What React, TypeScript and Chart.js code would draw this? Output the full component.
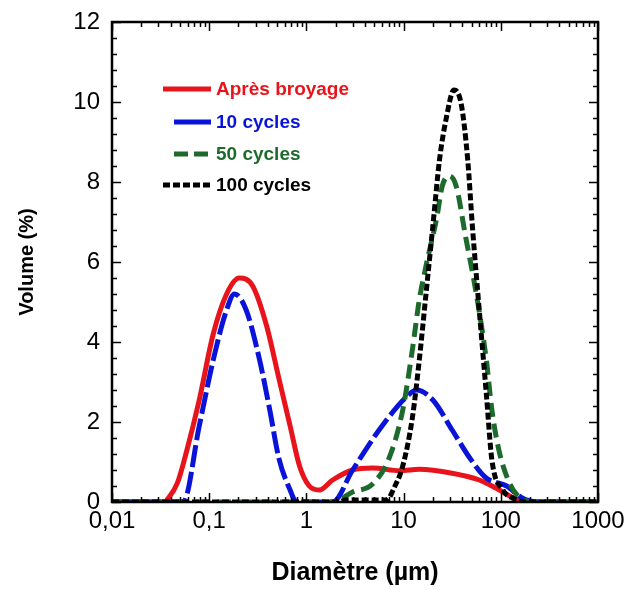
import React, { useEffect, useRef } from "react";
import { Chart, registerables } from "chart.js";

Chart.register(...registerables);

const seriesNames = ["Après broyage", "10 cycles", "50 cycles", "100 cycles"];
const seriesColors = ["#e8141c", "#0a14d8", "#1d6b2c", "#000000"];

const redDiam = [0.01, 0.035, 0.0367, 0.047, 0.059, 0.079, 0.11, 0.151, 0.204, 0.28, 0.39, 0.52, 0.68, 0.85, 1.07, 1.36, 1.86, 2.99, 4.8, 9.1, 14.5, 31.6, 60, 89, 132, 209, 1000];
const redVol = [0, 0, 0.05, 0.47, 1.3, 2.55, 4.2, 5.2, 5.6, 5.4, 4.4, 3.1, 1.9, 0.9, 0.4, 0.3, 0.55, 0.8, 0.85, 0.78, 0.82, 0.72, 0.55, 0.35, 0.12, 0, 0];

const blueDiam = [0.01, 0.054, 0.079, 0.11, 0.151, 0.182, 0.24, 0.33, 0.42, 0.52, 0.68, 0.79, 1.86, 2.99, 6.0, 11.5, 13.5, 20, 31.6, 48, 71, 115, 166, 245, 1000];
const blueVol = [0, 0, 1.9, 3.55, 4.8, 5.2, 4.8, 3.55, 2.3, 1.1, 0.3, 0, 0, 0.8, 1.9, 2.7, 2.8, 2.55, 1.8, 1.1, 0.6, 0.4, 0.1, 0, 0];

const greenDiam = [0.01, 1.86, 2.99, 4.8, 7.1, 9.8, 12.3, 14.5, 17, 21.9, 25, 29.5, 34.7, 43.7, 56, 71, 81, 95.5, 123, 155, 209, 1000];
const greenVol = [0, 0, 0.25, 0.45, 1.1, 2.3, 3.8, 5.05, 5.9, 7.1, 7.9, 8.15, 7.9, 6.6, 5.2, 3.55, 2.3, 1.3, 0.47, 0.12, 0, 0];

const blackDiam = [0.01, 2.2, 2.5, 6.5, 7.1, 7.8, 9.8, 12.3, 14.5, 17, 20, 23.4, 27.5, 33, 39, 45.7, 51, 60, 71, 81, 105, 132, 182, 1000];
const blackVol = [0, 0, 0.05, 0.05, 0.1, 0.3, 0.9, 2.1, 3.55, 5.2, 6.9, 8.55, 9.6, 10.3, 9.97, 8.55, 6.9, 4.8, 2.7, 1.05, 0.3, 0.1, 0, 0];

const xTickValues = [0.01, 0.1, 1, 10, 100, 1000];
const xTickLabels = ["0,01", "0,1", "1", "10", "100", "1000"];
const yMin = 0;
const yMax = 12;
const yStep = 2;

const FONT = "'Liberation Sans', Arial, sans-serif";

const toPoints = (xs: number[], ys: number[]) => xs.map((x, i) => ({ x, y: ys[i] }));

const framePlugin = {
  id: "frameTicksLegend",
  afterDraw(chart: any) {
    const { ctx, chartArea, scales } = chart;
    const { left, top, right, bottom } = chartArea;
    const xs = scales.x;
    const ys = scales.y;
    ctx.save();
    ctx.strokeStyle = "#000";
    ctx.lineCap = "butt";
    ctx.lineWidth = 1.5;
    const line = (x1: number, y1: number, x2: number, y2: number) => {
      ctx.beginPath();
      ctx.moveTo(x1, y1);
      ctx.lineTo(x2, y2);
      ctx.stroke();
    };
    for (let d = -2; d <= 3; d++) {
      for (let k = 1; k <= 9; k++) {
        const v = k * Math.pow(10, d);
        if (v > 1000.0001) break;
        const px = Math.round(xs.getPixelForValue(v)) + 0.5;
        const len = k === 1 ? 9 : 5;
        line(px, bottom, px, bottom - len);
        line(px, top, px, top + len);
      }
    }
    const nMinor = Math.round((yMax - yMin) / 0.4);
    for (let i = 0; i <= nMinor; i++) {
      const v = yMin + i * 0.4;
      const py = Math.round(ys.getPixelForValue(v)) + 0.5;
      const len = i % 5 === 0 ? 9 : 5;
      line(left, py, left + len, py);
      line(right, py, right - len, py);
    }
    ctx.lineWidth = 2.5;
    ctx.strokeRect(left, top, right - left, bottom - top);

    // legend
    const rows = [67, 100, 132, 163];
    const starts = [51, 62, 62, 51];
    const dashes = [[], [], [14, 6], [7, 3]];
    ctx.font = `bold 19px ${FONT}`;
    ctx.textBaseline = "middle";
    ctx.textAlign = "left";
    rows.forEach((r, i) => {
      const y = top + r;
      ctx.strokeStyle = seriesColors[i];
      ctx.lineWidth = 5;
      ctx.setLineDash(dashes[i]);
      line(left + starts[i], y, left + 99, y);
      ctx.setLineDash([]);
      ctx.fillStyle = seriesColors[i];
      ctx.fillText(seriesNames[i], left + 104, y + 1);
    });
    ctx.restore();
  },
};

export default function App() {
  const ref = useRef<HTMLCanvasElement>(null);
  useEffect(() => {
    document.body.style.margin = "0";
    const canvas = ref.current;
    if (!canvas) return;
    const chart = new Chart(canvas, {
      type: "scatter",
      data: {
        datasets: [
          {
            label: seriesNames[0],
            data: toPoints(redDiam, redVol),
            borderColor: seriesColors[0],
            borderWidth: 5,
            order: 4,
          },
          {
            label: seriesNames[1],
            data: toPoints(blueDiam, blueVol),
            borderColor: seriesColors[1],
            borderWidth: 5,
            borderDash: [22, 5],
            order: 3,
          },
          {
            label: seriesNames[2],
            data: toPoints(greenDiam, greenVol),
            borderColor: seriesColors[2],
            borderWidth: 5,
            borderDash: [14, 7],
            order: 2,
          },
          {
            label: seriesNames[3],
            data: toPoints(blackDiam, blackVol),
            borderColor: seriesColors[3],
            borderWidth: 5,
            borderDash: [7, 3],
            order: 1,
          },
        ].map((d) => ({
          ...d,
          showLine: true,
          pointRadius: 0,
          fill: false,
          cubicInterpolationMode: "monotone" as const,
          backgroundColor: d.borderColor,
        })),
      },
      options: {
        responsive: false,
        animation: false,
        maintainAspectRatio: false,
        layout: { padding: { left: 0, top: 22, right: 29, bottom: 0 } },
        plugins: {
          legend: { display: false },
          tooltip: { enabled: false },
        },
        scales: {
          x: {
            type: "logarithmic",
            min: 0.01,
            max: 1000,
            afterBuildTicks: (s: any) => {
              s.ticks = xTickValues.map((v) => ({ value: v }));
            },
            afterFit: (s: any) => {
              s.height = 88;
              s.paddingLeft = 0;
              s.paddingRight = 0;
            },
            ticks: {
              callback: (_v: any, i: number) => xTickLabels[i] ?? "",
              font: { family: FONT, size: 24 },
              color: "#000",
              padding: 5,
              autoSkip: false,
              maxRotation: 0,
            },
            grid: { display: false, drawTicks: false },
            border: { display: false },
            title: {
              display: true,
              text: "Diamètre (µm)",
              font: { family: FONT, size: 25, weight: "bold" },
              color: "#000",
              padding: { top: 0, bottom: 2 },
            },
          },
          y: {
            type: "linear",
            min: yMin,
            max: yMax,
            afterFit: (s: any) => {
              s.width = 112;
              s.paddingTop = 0;
              s.paddingBottom = 0;
            },
            ticks: {
              stepSize: yStep,
              font: { family: FONT, size: 24 },
              color: "#000",
              padding: 12,
            },
            grid: { display: false, drawTicks: false },
            border: { display: false },
            title: {
              display: true,
              text: "Volume (%)",
              font: { family: FONT, size: 20, weight: "bold" },
              color: "#000",
              padding: { top: 15, bottom: 0 },
            },
          },
        },
      },
      plugins: [framePlugin],
    });
    return () => chart.destroy();
  }, []);
  return (
    <div style={{ width: 627, height: 590, background: "#fff" }}>
      <canvas ref={ref} width={627} height={590} style={{ display: "block" }} />
    </div>
  );
}
